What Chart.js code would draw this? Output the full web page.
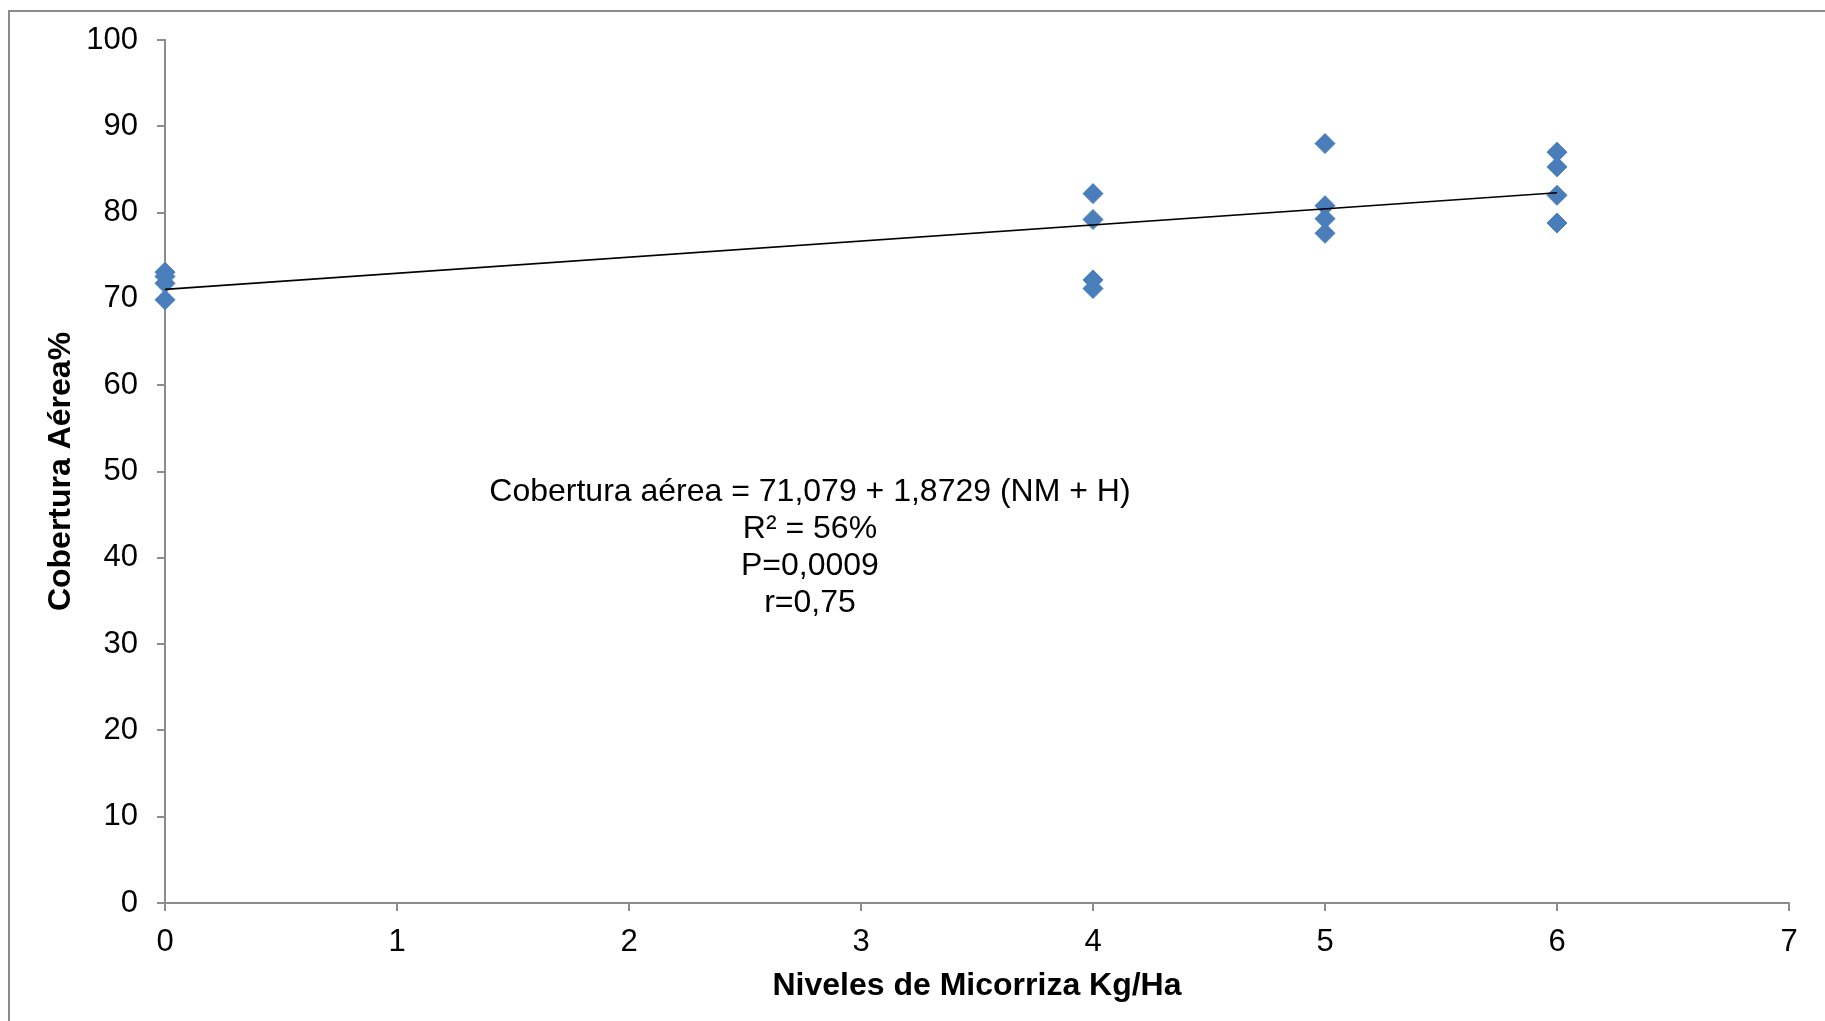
<!DOCTYPE html>
<html lang="es">
<head>
    <meta charset="UTF-8">
    <title>Cobertura aérea vs Niveles de Micorriza</title>
    <script src="https://cdn.jsdelivr.net/npm/chart.js@4.4.0"></script>
    <style>
        html, body { margin: 0; padding: 0; background: #fff; overflow: hidden; }
        .frame { position: absolute; left: 8px; top: 10px; width: 2000px; height: 2000px; border: 2px solid #8c8c8c; }
        .wrap { position: absolute; left: 0; top: 0; width: 1825px; height: 1021px; }
    </style>
</head>
<body>
    <div class="frame"></div>
    <div class="wrap"><canvas id="chart" width="1825" height="1021"></canvas></div>

    <script>
        // niveles de micorriza (kg/ha) y cobertura aérea (%)
        const nivel = [0, 0, 0, 0, 4, 4, 4, 4, 5, 5, 5, 5, 6, 6, 6, 6];
        const cobertura = [73.1, 72.6, 71.8, 69.9, 82.2, 79.2, 72.2, 71.2, 88.0, 80.8, 79.3, 77.6, 87.0, 85.3, 82.0, 78.8];

        // línea de tendencia (extremos leídos)
        const trendX = [0, 6];
        const trendY = [71.1, 82.3];

        const yTicks = [0, 10, 20, 30, 40, 50, 60, 70, 80, 90, 100];
        const xTicks = [0, 1, 2, 3, 4, 5, 6, 7];

        const anotacion = [
            'Cobertura aérea = 71,079 + 1,8729 (NM + H)',
            'R² = 56%',
            'P=0,0009',
            'r=0,75'
        ];
        const anotacionPos = { x: 2.78, y: 47.6 };

        const FONT = "'Liberation Sans', Arial, sans-serif";
        const AXIS = '#8c8c8c';

        const textoPlugin = {
            id: 'textoEcuacion',
            afterDatasetsDraw(chart) {
                const { ctx, scales } = chart;
                const px = scales.x.getPixelForValue(anotacionPos.x);
                const py = scales.y.getPixelForValue(anotacionPos.y);
                ctx.save();
                ctx.font = '32px ' + FONT;
                ctx.fillStyle = '#000';
                ctx.textAlign = 'center';
                ctx.textBaseline = 'middle';
                anotacion.forEach((line, i) => ctx.fillText(line, px, py + i * 37));
                ctx.restore();
            }
        };

        new Chart(document.getElementById('chart'), {
            type: 'scatter',
            data: {
                datasets: [
                    {
                        type: 'line',
                        label: 'Tendencia',
                        data: trendX.map((x, i) => ({ x, y: trendY[i] })),
                        borderColor: '#000',
                        borderWidth: 1.6,
                        pointRadius: 0,
                        fill: false,
                        order: 0
                    },
                    {
                        label: 'Cobertura',
                        data: nivel.map((x, i) => ({ x, y: cobertura[i] })),
                        pointStyle: 'rectRot',
                        pointRadius: 10,
                        backgroundColor: '#4a7ebb',
                        borderColor: '#4a7ebb',
                        borderWidth: 1,
                        clip: false,
                        order: 1
                    }
                ]
            },
            options: {
                responsive: false,
                animation: false,
                layout: { padding: { top: 40, right: 36, bottom: 0, left: 0 } },
                plugins: {
                    legend: { display: false },
                    tooltip: { enabled: false }
                },
                scales: {
                    x: {
                        type: 'linear',
                        min: 0, max: 7,
                        afterBuildTicks: s => { s.ticks = xTicks.map(v => ({ value: v })); },
                        afterFit: s => { s.height = 118; },
                        grid: { drawOnChartArea: false, tickLength: 8, color: AXIS, lineWidth: 2 },
                        border: { color: AXIS, width: 2 },
                        ticks: { color: '#000', padding: 13, font: { family: FONT, size: 31 } },
                        title: {
                            display: true,
                            text: 'Niveles de Micorriza Kg/Ha',
                            color: '#000',
                            font: { family: FONT, size: 32, weight: 'bold' },
                            padding: { top: 0, bottom: 16 }
                        }
                    },
                    y: {
                        min: 0, max: 100,
                        afterBuildTicks: s => { s.ticks = yTicks.map(v => ({ value: v })); },
                        afterFit: s => { s.width = 165; },
                        grid: { drawOnChartArea: false, tickLength: 8, color: AXIS, lineWidth: 2 },
                        border: { color: AXIS, width: 2 },
                        ticks: { color: '#000', padding: 19, font: { family: FONT, size: 31 } },
                        title: {
                            display: true,
                            text: 'Cobertura Aérea%',
                            color: '#000',
                            font: { family: FONT, size: 32, weight: 'bold' },
                            padding: { top: 42, bottom: 0 }
                        }
                    }
                }
            },
            plugins: [textoPlugin]
        });
    </script>
</body>
</html>
